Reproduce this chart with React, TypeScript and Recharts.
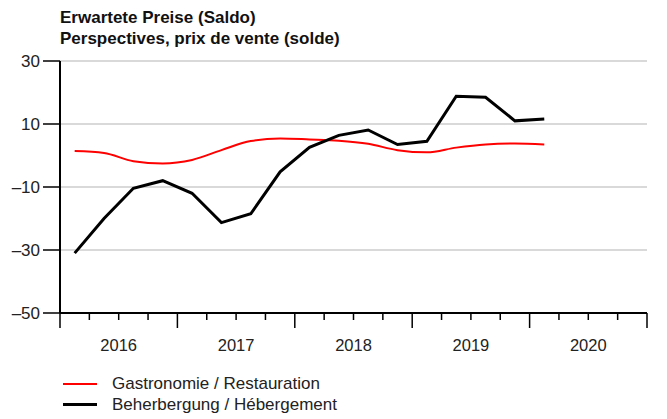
import { CartesianGrid, Line, LineChart, XAxis, YAxis } from "recharts";

const quarters = [
  "2016Q1", "2016Q2", "2016Q3", "2016Q4",
  "2017Q1", "2017Q2", "2017Q3", "2017Q4",
  "2018Q1", "2018Q2", "2018Q3", "2018Q4",
  "2019Q1", "2019Q2", "2019Q3", "2019Q4",
  "2020Q1",
];
const gastronomie = [1.4, 0.8, -1.8, -2.5, -1.4, 1.7, 4.6, 5.4, 5.1, 4.7, 3.7, 1.7, 1.0, 2.5, 3.5, 3.8, 3.5];
const beherbergung = [-31, -20, -10.4, -8, -12, -21.3, -18.5, -5.2, 2.6, 6.4, 8.1, 3.5, 4.5, 18.8, 18.5, 11, 11.6];
const years = ["2016", "2017", "2018", "2019", "2020"];
const yTicks = [-50, -30, -10, 10, 30];

// x = quarter index + 0.5 so each point sits in the middle of its quarter
const data = quarters.map((q, i) => ({
  q,
  x: i + 0.5,
  gastro: gastronomie[i],
  beh: beherbergung[i],
}));
const xTicks = Array.from({ length: years.length * 4 + 1 }, (_, i) => i);

const font = "'Liberation Sans', Arial, sans-serif";

function QuarterTick(props: any) {
  const { x, y, payload } = props;
  const v = payload.value as number;
  const major = v % 4 === 0;
  return (
    <g>
      <line x1={x} x2={x} y1={y} y2={y + (major ? 15 : 7)} stroke="#000" strokeWidth={1.5} />
      {v % 4 === 2 && (
        <text x={x} y={y + 38} textAnchor="middle" fontSize={16.5} fill="#222" fontFamily={font}>
          {years[(v - 2) / 4]}
        </text>
      )}
    </g>
  );
}

export default function App() {
  return (
    <div style={{ position: "absolute", left: 0, top: 0, width: 667, height: 419, background: "#fff", fontFamily: font }}>
      <div style={{ position: "absolute", left: 60, top: 7, fontSize: 17, fontWeight: "bold", lineHeight: "21px", color: "#111" }}>
        <div>Erwartete Preise (Saldo)</div>
        <div>Perspectives, prix de vente (solde)</div>
      </div>
      <LineChart width={667} height={419} data={data} margin={{ top: 61, right: 20, left: 0, bottom: 56 }}>
        <CartesianGrid vertical={false} stroke="#cccccc" strokeWidth={1.5} />
        <XAxis
          dataKey="x"
          type="number"
          domain={[0, 20]}
          ticks={xTicks}
          interval={0}
          height={50}
          tickSize={0}
          tickMargin={0}
          tickLine={false}
          axisLine={{ stroke: "#000", strokeWidth: 2 }}
          tick={<QuarterTick />}
        />
        <YAxis
          domain={[-50, 30]}
          ticks={yTicks}
          width={60}
          tickSize={17}
          tickMargin={3}
          axisLine={{ stroke: "#000", strokeWidth: 2 }}
          tickLine={{ stroke: "#000", strokeWidth: 1.5 }}
          tick={{ fill: "#222", fontSize: 17, fontFamily: font }}
          tickFormatter={(v: number) => (v < 0 ? "\u2013" + Math.abs(v) : String(v))}
        />
        <Line type="monotone" dataKey="gastro" stroke="#ff0000" strokeWidth={2} dot={false} isAnimationActive={false} />
        <Line type="linear" dataKey="beh" stroke="#000" strokeWidth={3} dot={false} isAnimationActive={false} />
      </LineChart>
      <div style={{ position: "absolute", left: 63, top: 373, fontSize: 17, color: "#222", lineHeight: "21px" }}>
        <div style={{ display: "flex", alignItems: "center" }}>
          <span style={{ display: "inline-block", width: 34, height: 2, background: "#ff0000", marginRight: 15 }} />
          Gastronomie / Restauration
        </div>
        <div style={{ display: "flex", alignItems: "center" }}>
          <span style={{ display: "inline-block", width: 34, height: 3, background: "#000", marginRight: 15 }} />
          Beherbergung / Hébergement
        </div>
      </div>
    </div>
  );
}
